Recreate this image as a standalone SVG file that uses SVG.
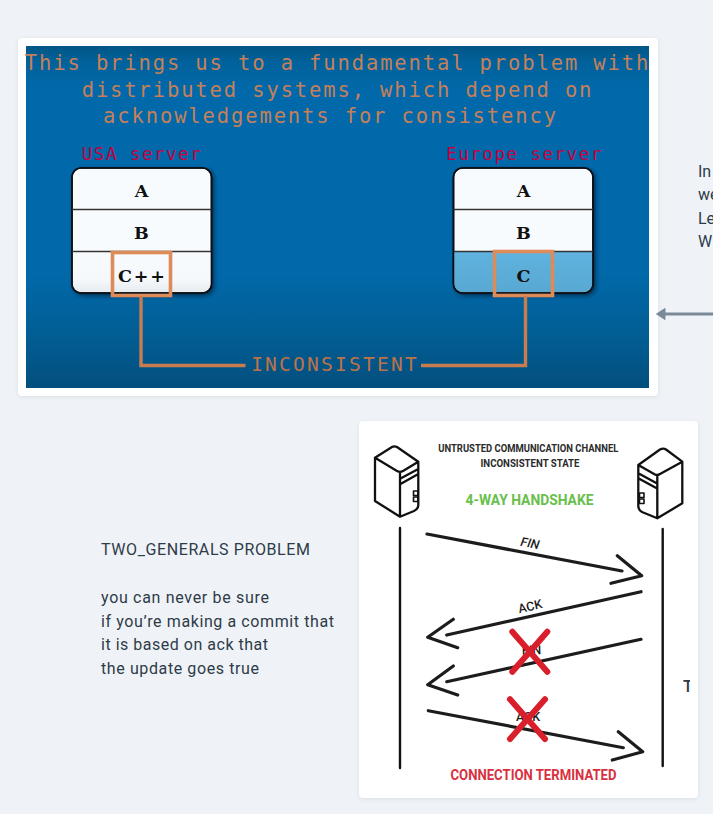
<svg xmlns="http://www.w3.org/2000/svg" width="713" height="814" viewBox="0 0 713 814">
<style>
.mono{font-family:"DejaVu Sans Mono","Liberation Mono",monospace}
.title{font-size:20.5px;letter-spacing:1.87px;fill:#c58059;text-anchor:middle}
.srv{font-size:17.5px;letter-spacing:1.5px;fill:#c4003f;text-anchor:middle}
.cell{font-family:"DejaVu Serif","Liberation Serif",serif;font-weight:700;font-size:17.5px;fill:#111;text-anchor:middle}
.note{font-family:Roboto,"Noto Sans",sans-serif;font-size:16px;fill:#2e3b48}
.hand{font-family:Roboto,"Liberation Sans",sans-serif;font-weight:700}
.sk{fill:none;stroke:#1c1c1c;stroke-width:3.2;stroke-linecap:round;stroke-linejoin:round}
.vl{fill:none;stroke:#111;stroke-width:2.4;stroke-linecap:round}
.icon{fill:none;stroke:#111;stroke-width:2.3;stroke-linejoin:round;stroke-linecap:round}
.x{fill:none;stroke:#d81f2b;stroke-width:6;stroke-linecap:round}
.or{fill:none;stroke:#c87c4f;stroke-width:3.4}
.box{fill:none;stroke:#dc8b59;stroke-width:3.6}
.div{stroke:#333;stroke-width:1.6}
.tb{stroke:#0b0f14;stroke-width:1.6}
</style>
<defs>
<linearGradient id="bg" x1="0" y1="0" x2="0" y2="1">
<stop offset="0" stop-color="#015686"/><stop offset="0.05" stop-color="#01629c"/><stop offset="0.13" stop-color="#0169aa"/><stop offset="0.66" stop-color="#0169aa"/><stop offset="0.85" stop-color="#025d93"/><stop offset="1" stop-color="#034f7e"/>
</linearGradient>
<linearGradient id="rowW" x1="0" y1="0" x2="0" y2="1"><stop offset="0" stop-color="#f8fbfe"/><stop offset="0.65" stop-color="#f6f9fc"/><stop offset="1" stop-color="#e6ebef"/></linearGradient>
<linearGradient id="rowB" x1="0" y1="0" x2="0" y2="1"><stop offset="0" stop-color="#5fb3de"/><stop offset="1" stop-color="#58a8d2"/></linearGradient>
<filter id="ts" x="-10%" y="-10%" width="125%" height="125%"><feDropShadow dx="2" dy="2" stdDeviation="2" flood-color="#001c33" flood-opacity="0.7"/></filter>
<filter id="cs" x="-5%" y="-5%" width="110%" height="110%"><feDropShadow dx="0" dy="1" stdDeviation="2" flood-color="#8a97a5" flood-opacity="0.22"/></filter>
<clipPath id="tclip"><rect x="680" y="675" width="10" height="22"/></clipPath>
<clipPath id="r1"><path d="M72.8 252H210.8V284a8 8 0 0 1-8 8H80.8a8 8 0 0 1-8-8Z"/></clipPath>
<clipPath id="r2"><path d="M454.3 252H592.3V284a8 8 0 0 1-8 8H462.3a8 8 0 0 1-8-8Z"/></clipPath>
</defs>
<rect width="713" height="814" fill="#eff3f7"/>

<g id="slide-card">
<rect x="18" y="38" width="640" height="358" rx="4" fill="#fff" filter="url(#cs)"/>
<rect x="26" y="46" width="623" height="342" fill="url(#bg)"/>
<g class="mono title">
<text x="337.500" y="70">This brings us to a fundamental problem with</text>
<text x="337.500" y="96.500">distributed systems, which depend on</text>
<text x="330.500" y="123">acknowledgements for consistency</text>
</g>
</g>

<g id="usa-server">
<text class="mono srv" x="142" y="160">USA server</text>
<rect x="72" y="168" width="139.500" height="125" rx="9" fill="#f8fbfe" class="tb" filter="url(#ts)"/>
<rect x="72" y="252" width="139.500" height="41" fill="url(#rowW)" clip-path="url(#r1)"/>
<rect x="72" y="168" width="139.500" height="125" rx="9" fill="none" class="tb"/>
<line class="div" x1="72" y1="209.500" x2="211.500" y2="209.500"/>
<line class="div" x1="72" y1="251.500" x2="211.500" y2="251.500"/>
<text class="cell" x="141.500" y="196.700">A</text>
<text class="cell" x="141.500" y="239">B</text>
<text class="cell" x="141.500" y="281.700" textLength="47" lengthAdjust="spacing">C++</text>
<rect class="box" x="112.500" y="252.500" width="58" height="43"/>
</g>

<g id="europe-server">
<text class="mono srv" x="524.500" y="160">Europe server</text>
<rect x="453.500" y="168" width="139.500" height="125" rx="9" fill="#f8fbfe" class="tb" filter="url(#ts)"/>
<rect x="453.500" y="252" width="139.500" height="41" fill="url(#rowB)" clip-path="url(#r2)"/>
<rect x="453.500" y="168" width="139.500" height="125" rx="9" fill="none" class="tb"/>
<line class="div" x1="453.500" y1="209.500" x2="593" y2="209.500"/>
<line class="div" x1="453.500" y1="251.500" x2="593" y2="251.500"/>
<text class="cell" x="523.500" y="196.700">A</text>
<text class="cell" x="523.500" y="239">B</text>
<text class="cell" x="523.500" y="281.700">C</text>
<rect class="box" x="494.500" y="251.500" width="58" height="44"/>
</g>

<g id="inconsistent-link">
<path class="or" d="M141 296V365.500H245.500"/>
<path class="or" d="M421 365.500H525.500V296"/>
<text class="mono" x="335" y="371" text-anchor="middle" style="font-size:19.600px;letter-spacing:2.180px;fill:#bd7349">INCONSISTENT</text>
</g>

<g id="card-arrow">
<path d="M713 314H664" fill="none" stroke="#78899a" stroke-width="3"/>
<path d="M656.500 314 665 308.500V319.500Z" fill="#78899a" stroke="#78899a" stroke-linejoin="round"/>
</g>

<g id="side-note" class="note">
<text x="698" y="176.500">In</text>
<text x="698" y="200">we</text>
<text x="698" y="223.500">Le</text>
<text x="698" y="247">W</text>
</g>

<g id="two-generals-note" class="note">
<text x="101" y="555" textLength="209">TWO_GENERALS PROBLEM</text>
<text x="101" y="603" textLength="168">you can never be sure</text>
<text x="101" y="626.500" textLength="233">if you’re making a commit that</text>
<text x="101" y="650" textLength="167">it is based on ack that</text>
<text x="101" y="674" textLength="158">the update goes true</text>
</g>

<g id="handshake-card">
<rect x="359" y="421" width="339" height="377" rx="4" fill="#fff" filter="url(#cs)"/>
<text class="hand" x="528.300" y="451.700" text-anchor="middle" font-size="10.200" fill="#2b2b2b" textLength="180" lengthAdjust="spacingAndGlyphs">UNTRUSTED COMMUNICATION CHANNEL</text>
<text class="hand" x="530" y="467.300" text-anchor="middle" font-size="10.200" fill="#2b2b2b" textLength="99" lengthAdjust="spacingAndGlyphs">INCONSISTENT STATE</text>
<text class="hand" x="529.500" y="505" text-anchor="middle" font-size="15.500" fill="#69bf4c" textLength="128" lengthAdjust="spacingAndGlyphs">4-WAY HANDSHAKE</text>
<text class="hand" x="533.500" y="780" text-anchor="middle" font-size="15" fill="#d9303f" textLength="166" lengthAdjust="spacingAndGlyphs">CONNECTION TERMINATED</text>
<text x="683" y="692" clip-path="url(#tclip)" style="font-family:Roboto,sans-serif;font-size:16px;font-weight:500;fill:#2e3b48">T</text>
</g>

<g id="server-left" class="icon">
<path d="M375 457.700 392 447Q394.300 445.600 397 447L418.300 461.700 403 471Q400 472.800 397 471ZM375 457.700V501L400 516.700 414 511Q418.300 509 418.300 505V461.700M400 472.300V516.700M400.500 478.500 418.300 469M400.500 484 418.300 474"/>
<rect x="413.500" y="491" width="4.500" height="4.500" stroke-width="1.600"/><rect x="413.500" y="497" width="4.500" height="4.500" stroke-width="1.600"/>
</g>
<g id="server-right" class="icon">
<path d="M638.300 465 660 449.500Q663.300 447.600 666 449.500L682.300 461.700 660 474Q657.300 475.700 655 474.500ZM638.300 465V506Q638.300 510 642 512L657.300 518.300 682.300 503.300V461.700M657.300 475.700V518.300M638.300 473.300 656.700 483.300M638.300 478.300 656.700 488.300"/>
<rect x="639.500" y="493" width="4.500" height="4.500" stroke-width="1.600"/><rect x="639.500" y="499" width="4.500" height="4.500" stroke-width="1.600"/>
</g>

<g id="connectors">
<path class="vl" d="M400 528V768"/>
<path class="vl" d="M662.700 529V766"/>
<path class="sk" d="M427 534 622 571M617.300 555.700 641.700 575.700 611 583.300"/>
<path class="sk" d="M641 591.700 446.700 635M453.300 619.300 427.700 637.300 457.700 647.700"/>
<path class="sk" d="M641 639.300 446.700 681.700M453.300 666 427.700 684.700 457.700 695"/>
<path class="sk" d="M428.300 710.700 623.300 747.700M618.300 731.700 642.700 751.700 612.300 760"/>
</g>

<g id="labels" style="font-family:Roboto,'Liberation Sans',sans-serif;font-size:12.500px;fill:#1c1c1c;text-anchor:middle">
<text transform="translate(529.300 547.500) rotate(10)" font-style="italic" font-weight="500">FIN</text>
<text transform="translate(531 610.500) rotate(-13)" font-weight="500">ACK</text>
<text transform="translate(531.700 654.500) rotate(-2)" font-weight="500">FIN</text>
<text transform="translate(528 721)" font-weight="500">ACK</text>
</g>

<g id="cross-1"><path class="x" d="M512.300 631.700 547.300 671.700M547.300 631.700 512.300 671.700"/></g>
<g id="cross-2"><path class="x" d="M510 699.300 545 739M545 699.300 510 739"/></g>
</svg>
